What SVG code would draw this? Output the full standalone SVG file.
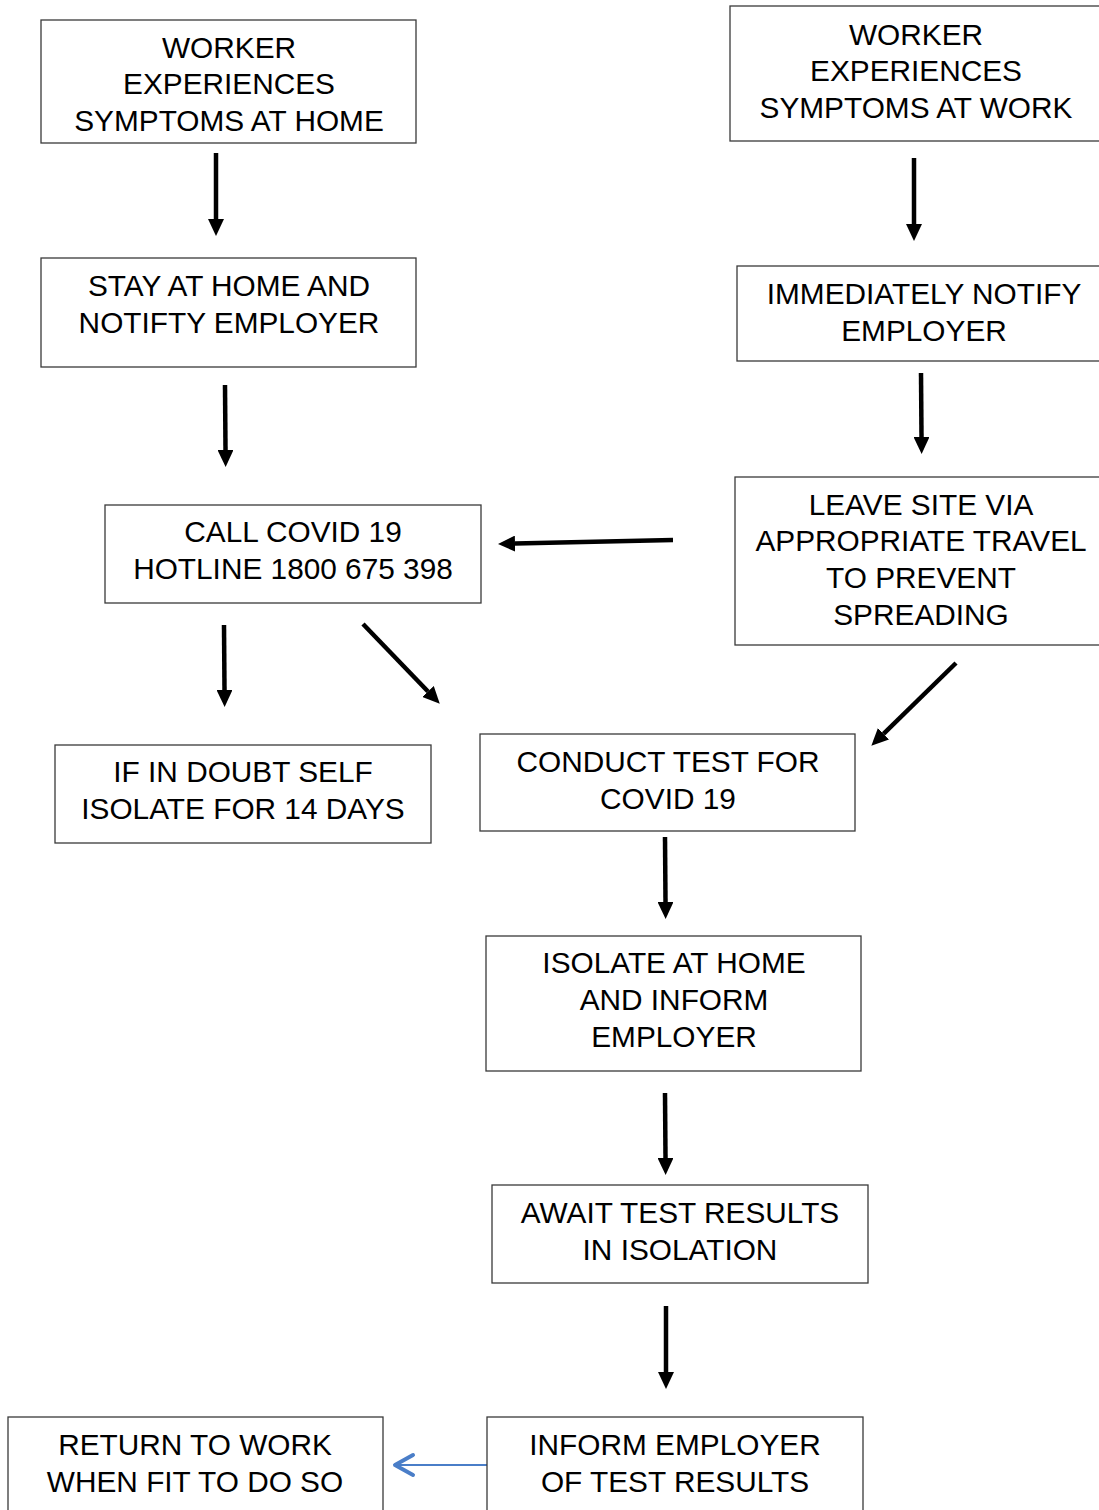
<svg xmlns="http://www.w3.org/2000/svg" width="1099" height="1510" viewBox="0 0 1099 1510">
<defs>
<style>
.box{fill:#fff;stroke:#3a3a3a;stroke-width:1.3}
.t{font-family:"Liberation Sans",Arial,sans-serif;font-size:29.8px;fill:#000;text-anchor:middle;dominant-baseline:central}
.c{stroke:#000;stroke-width:4.5;fill:none}
</style>
<marker id="ah" markerUnits="userSpaceOnUse" markerWidth="18" markerHeight="16" refX="0" refY="8" orient="auto">
<path d="M0,0 L17,8 L0,16 z" fill="#000"/>
</marker>
</defs>
<rect width="1099" height="1510" fill="#fff"/>
<g id="connectors">
<line class="c" x1="216" y1="153" x2="216" y2="219" marker-end="url(#ah)"/>
<line class="c" x1="914" y1="158" x2="914" y2="224" marker-end="url(#ah)"/>
<line class="c" x1="225" y1="385" x2="225.5" y2="450" marker-end="url(#ah)"/>
<line class="c" x1="921" y1="373" x2="921.5" y2="437" marker-end="url(#ah)"/>
<line class="c" x1="673" y1="540" x2="515" y2="543.6" marker-end="url(#ah)"/>
<line class="c" x1="224" y1="625" x2="224.5" y2="690" marker-end="url(#ah)"/>
<line class="c" x1="363" y1="624" x2="428" y2="691.5" marker-end="url(#ah)"/>
<line class="c" x1="956" y1="663" x2="883.5" y2="733.8" marker-end="url(#ah)"/>
<line class="c" x1="665" y1="837" x2="665.5" y2="902" marker-end="url(#ah)"/>
<line class="c" x1="665" y1="1093" x2="665.5" y2="1158" marker-end="url(#ah)"/>
<line class="c" x1="666" y1="1306" x2="666" y2="1372" marker-end="url(#ah)"/>
<g id="blue-arrow">
<line x1="487" y1="1465" x2="396" y2="1465" stroke="#4a7ec8" stroke-width="2.2"/>
<polyline points="413,1455 395,1465 413,1475" fill="none" stroke="#4a7ec8" stroke-width="4" stroke-linecap="round" stroke-linejoin="round"/>
</g>
</g>
<g id="n-home"><rect class="box" x="41" y="20" width="375" height="123"/>
<text class="t" x="229" y="47">WORKER</text><text class="t" x="229" y="83">EXPERIENCES</text><text class="t" x="229" y="120">SYMPTOMS AT HOME</text></g>
<g id="n-work"><rect class="box" x="730" y="6" width="380" height="135"/>
<text class="t" x="916" y="34">WORKER</text><text class="t" x="916" y="70">EXPERIENCES</text><text class="t" x="916" y="107">SYMPTOMS AT WORK</text></g>
<g id="n-stay"><rect class="box" x="41" y="258" width="375" height="109"/>
<text class="t" x="229" y="285">STAY AT HOME AND</text><text class="t" x="229" y="322">NOTIFTY EMPLOYER</text></g>
<g id="n-notify"><rect class="box" x="737" y="266" width="380" height="95"/>
<text class="t" x="924" y="293">IMMEDIATELY NOTIFY</text><text class="t" x="924" y="330">EMPLOYER</text></g>
<g id="n-call"><rect class="box" x="105" y="505" width="376" height="98"/>
<text class="t" x="293" y="531">CALL COVID 19</text><text class="t" x="293" y="568">HOTLINE 1800 675 398</text></g>
<g id="n-leave"><rect class="box" x="735" y="477" width="380" height="168"/>
<text class="t" x="921" y="504">LEAVE SITE VIA</text><text class="t" x="921" y="540">APPROPRIATE TRAVEL</text><text class="t" x="921" y="577">TO PREVENT</text><text class="t" x="921" y="614">SPREADING</text></g>
<g id="n-doubt"><rect class="box" x="55" y="745" width="376" height="98"/>
<text class="t" x="243" y="771">IF IN DOUBT SELF</text><text class="t" x="243" y="808">ISOLATE FOR 14 DAYS</text></g>
<g id="n-test"><rect class="box" x="480" y="734" width="375" height="97"/>
<text class="t" x="668" y="761">CONDUCT TEST FOR</text><text class="t" x="668" y="798">COVID 19</text></g>
<g id="n-isolate"><rect class="box" x="486" y="936" width="375" height="135"/>
<text class="t" x="674" y="962">ISOLATE AT HOME</text><text class="t" x="674" y="999">AND INFORM</text><text class="t" x="674" y="1036">EMPLOYER</text></g>
<g id="n-await"><rect class="box" x="492" y="1185" width="376" height="98"/>
<text class="t" x="680" y="1212">AWAIT TEST RESULTS</text><text class="t" x="680" y="1249">IN ISOLATION</text></g>
<g id="n-inform"><rect class="box" x="487" y="1417" width="376" height="110"/>
<text class="t" x="675" y="1444">INFORM EMPLOYER</text><text class="t" x="675" y="1481">OF TEST RESULTS</text></g>
<g id="n-return"><rect class="box" x="8" y="1417" width="375" height="110"/>
<text class="t" x="195" y="1444">RETURN TO WORK</text><text class="t" x="195" y="1481">WHEN FIT TO DO SO</text></g>
</svg>
